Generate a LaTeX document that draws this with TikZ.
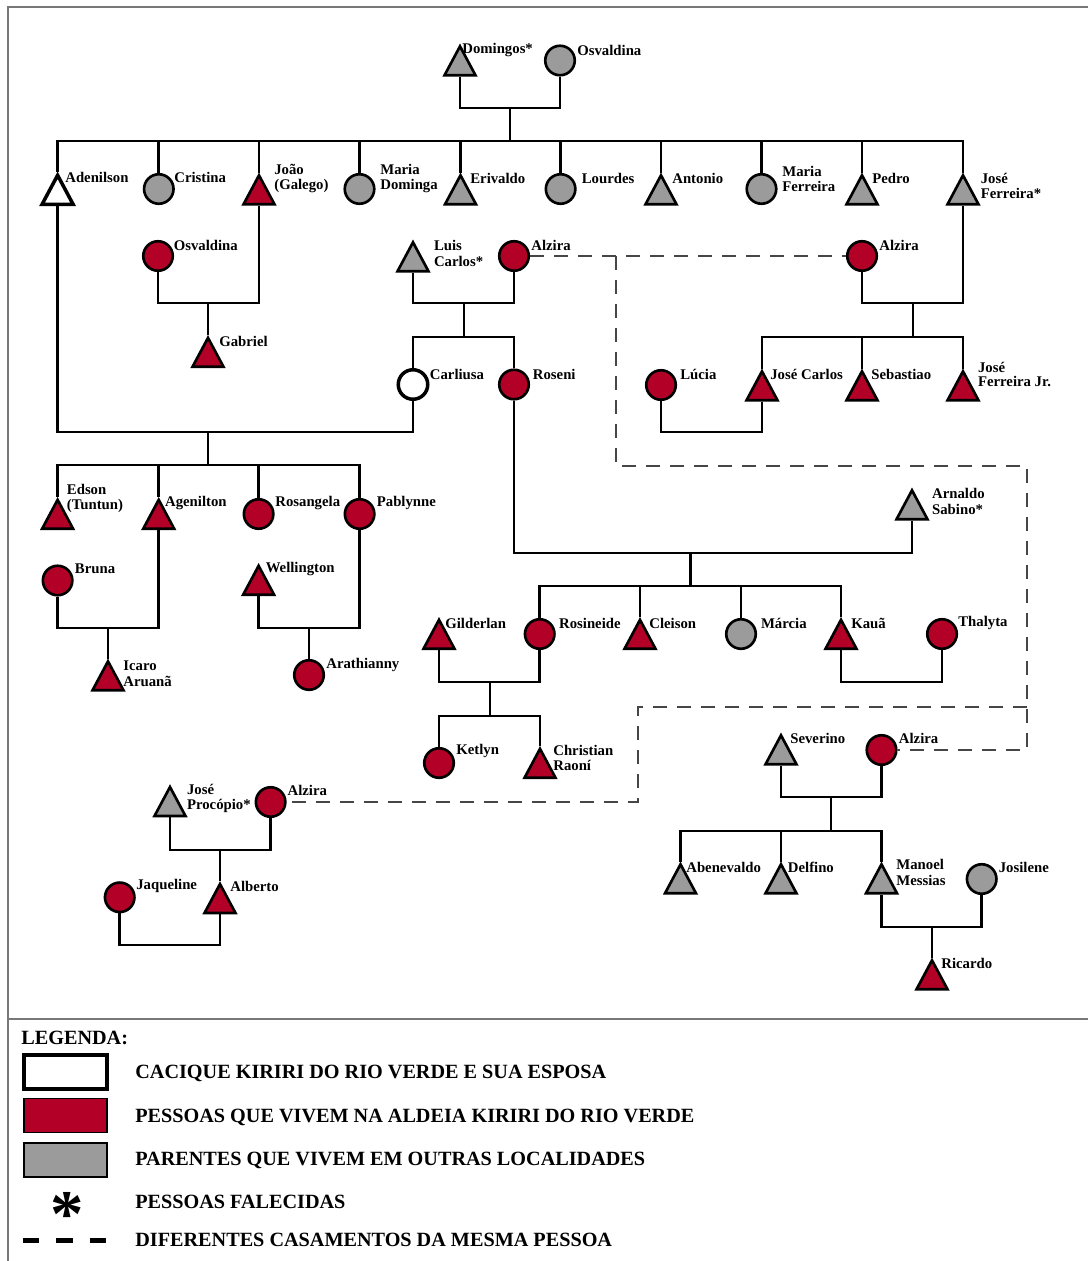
\documentclass[tikz,border=0pt]{standalone}
\usepackage{fontspec}
\setmainfont{Liberation Serif}
\usetikzlibrary{shapes.geometric}
\definecolor{vermelho}{RGB}{178,0,38}
\definecolor{cinza}{RGB}{155,155,155}
\definecolor{cinzaesc}{RGB}{70,70,70}
\definecolor{cinzamold}{RGB}{120,120,120}

\begin{document}
\begin{tikzpicture}[x=0.02cm,y=-0.02cm,
    liga/.style={line width=1.6pt},
    casam/.style={line width=1pt,cinzaesc,dash pattern=on 0.28cm off 0.2cm},
    homem/.style={draw,line width=1.5pt,isosceles triangle,isosceles triangle apex angle=60,
      shape border rotate=90,isosceles triangle stretches,minimum width=0.62cm,minimum height=0.58cm,
      inner sep=0pt,yshift=-0.1cm},
    mulher/.style={draw,line width=1.5pt,circle,minimum size=0.59cm,inner sep=0pt},
    aldeia/.style={fill=vermelho},
    fora/.style={fill=cinza},
    cacique/.style={fill=white,line width=2pt},
    nome/.style={anchor=west,inner sep=0pt,align=left,font=\fontsize{8.4}{9}\selectfont\bfseries},
    legtexto/.style={anchor=west,inner sep=0pt,font=\fontsize{11.5}{12}\selectfont\bfseries},
    caixa/.style={draw,minimum width=1.66cm,minimum height=0.68cm,inner sep=0pt}]
    \useasboundingbox (0,0) rectangle (1088,1261);

    % moldura
    \draw[cinzamold,line width=1pt] (8,1261) -- (8,7) -- (1088,7);
    \draw[cinzamold,line width=1pt] (8,1019) -- (1088,1019);

    % Domingos e Osvaldina
    \node[homem,fora] (domingos) at (460,61) {};
    \node[nome] (domingosN) at (462,50) {Domingos*};
    \node[mulher,fora] (osvaldina) at (560,60.5) {};
    \node[nome] (osvaldinaN) at (577,50) {Osvaldina};

    % filhos de Domingos
    \node[homem,cacique] (adenilson) at (57.6,190) {};
    \node[nome] (adenilsonN) at (65,177) {Adenilson};
    \node[mulher,fora] (cristina) at (158.8,189) {};
    \node[nome] (cristinaN) at (174,177) {Cristina};
    \node[homem,aldeia] (joao) at (259,190) {};
    \node[nome] (joaoN) at (274,178.5) {João\\(Galego)};
    \node[mulher,fora] (mariaD) at (359.5,189) {};
    \node[nome] (mariaDN) at (380,178.5) {Maria\\Dominga};
    \node[homem,fora] (erivaldo) at (460.5,190) {};
    \node[nome] (erivaldoN) at (470,178) {Erivaldo};
    \node[mulher,fora] (lourdes) at (560.6,189) {};
    \node[nome] (lourdesN) at (581.5,178) {Lourdes};
    \node[homem,fora] (antonio) at (661,190) {};
    \node[nome] (antonioN) at (672,178) {Antonio};
    \node[mulher,fora] (mariaF) at (761.5,189) {};
    \node[nome] (mariaFN) at (782,179) {Maria\\Ferreira};
    \node[homem,fora] (pedro) at (862,190) {};
    \node[nome] (pedroN) at (872,178) {Pedro};
    \node[homem,fora] (joseF) at (963,190) {};
    \node[nome] (joseFN) at (980.5,186) {José\\Ferreira*};

    \coordinate (casal0) at (510,108);
    \coordinate (irmaos0) at (510,141);
    \draw[liga] (domingos.south) |- (casal0) -| (osvaldina.south);
    \draw[liga] (casal0) -- (irmaos0);
    \foreach \f in {adenilson,cristina,joao,mariaD,erivaldo,lourdes,antonio,mariaF,pedro,joseF} {
        \draw[liga] (irmaos0) -| (\f.north);
    }

    % João e Osvaldina
    \node[mulher,aldeia] (osvaldinaB) at (158,256) {};
    \node[nome] (osvaldinaBN) at (173.5,245) {Osvaldina};
    \node[homem,aldeia] (gabriel) at (208,352.5) {};
    \node[nome] (gabrielN) at (219,341) {Gabriel};
    \coordinate (casal1) at (208,303);
    \draw[liga] (osvaldinaB.south) |- (casal1) -| (joao.south);
    \draw[liga] (casal1) -- (gabriel.north);

    % Luis Carlos e Alzira
    \node[homem,fora] (luis) at (413,257) {};
    \node[nome] (luisN) at (433.7,253.5) {Luis\\Carlos*};
    \node[mulher,aldeia] (alziraA) at (514,256) {};
    \node[nome] (alziraAN) at (531,245) {Alzira};
    \node[mulher,cacique] (carliusa) at (413,384.5) {};
    \node[nome] (carliusaN) at (429.6,374) {Carliusa};
    \node[mulher,aldeia] (roseni) at (514,384.5) {};
    \node[nome] (roseniN) at (532.6,374) {Roseni};
    \coordinate (casal2) at (464,303);
    \coordinate (irmaos2) at (464,337);
    \draw[liga] (luis.south) |- (casal2) -| (alziraA.south);
    \draw[liga] (casal2) -- (irmaos2);
    \foreach \f in {carliusa,roseni} {
        \draw[liga] (irmaos2) -| (\f.north);
    }

    % José Ferreira e Alzira
    \node[mulher,aldeia] (alziraB) at (862,256) {};
    \node[nome] (alziraBN) at (879,245) {Alzira};
    \node[mulher,aldeia] (lucia) at (661,385) {};
    \node[nome] (luciaN) at (680,374) {Lúcia};
    \node[homem,aldeia] (joseC) at (762,386) {};
    \node[nome] (joseCN) at (770,374) {José Carlos};
    \node[homem,aldeia] (sebastiao) at (862,386) {};
    \node[nome] (sebastiaoN) at (871,374) {Sebastiao};
    \node[homem,aldeia] (joseJr) at (963,386) {};
    \node[nome,font=\fontsize{8.4}{8}\selectfont\bfseries] (joseJrN) at (977.7,374.5) {José\\Ferreira Jr.};
    \coordinate (casal3) at (913,303);
    \coordinate (irmaos3) at (913,337);
    \coordinate (casal4) at (711,432);
    \draw[liga] (alziraB.south) |- (casal3) -| (joseF.south);
    \draw[liga] (casal3) -- (irmaos3);
    \foreach \f in {joseC,sebastiao,joseJr} {
        \draw[liga] (irmaos3) -| (\f.north);
    }
    \draw[liga] (lucia.south) |- (casal4) -| (joseC.south);

    % Adenilson e Carliusa
    \node[homem,aldeia] (edson) at (57.6,514.5) {};
    \node[nome] (edsonN) at (66.6,498.5) {Edson\\(Tuntun)};
    \node[homem,aldeia] (agenilton) at (158.7,514.5) {};
    \node[nome] (ageniltonN) at (164.8,503) {Agenilton};
    \node[mulher,aldeia] (rosangela) at (258.6,514) {};
    \node[nome] (rosangelaN) at (275,503) {Rosangela};
    \node[mulher,aldeia] (pablynne) at (359.6,514) {};
    \node[nome] (pablynneN) at (376.5,503) {Pablynne};
    \coordinate (casal5) at (208,432);
    \coordinate (irmaos5) at (208,465);
    \draw[liga] (adenilson.south) |- (casal5) -| (carliusa.south);
    \draw[liga] (casal5) -- (irmaos5);
    \foreach \f in {edson,agenilton,rosangela,pablynne} {
        \draw[liga] (irmaos5) -| (\f.north);
    }

    % Bruna e Agenilton
    \node[mulher,aldeia] (bruna) at (57.6,580.5) {};
    \node[nome] (brunaN) at (74.6,569) {Bruna};
    \node[homem,aldeia] (icaro) at (108,676) {};
    \node[nome] (icaroN) at (123,673.5) {Icaro\\Aruanã};
    \coordinate (casal6) at (108,628);
    \draw[liga] (bruna.south) |- (casal6) -| (agenilton.south);
    \draw[liga] (casal6) -- (icaro.north);

    % Wellington e Pablynne
    \node[homem,aldeia] (wellington) at (258.6,580.5) {};
    \node[nome] (wellingtonN) at (265.4,569) {Wellington};
    \node[mulher,aldeia] (arathianny) at (309,675) {};
    \node[nome] (arathiannyN) at (326,665) {Arathianny};
    \coordinate (casal7) at (309,628);
    \draw[liga] (wellington.south) |- (casal7) -| (pablynne.south);
    \draw[liga] (casal7) -- (arathianny.north);

    % Roseni e Arnaldo Sabino
    \node[homem,fora] (arnaldo) at (912,505) {};
    \node[nome] (arnaldoN) at (931.8,501.5) {Arnaldo\\Sabino*};
    \node[homem,aldeia] (gilderlan) at (439,634.5) {};
    \node[nome] (gilderlanN) at (445,623) {Gilderlan};
    \node[mulher,aldeia] (rosineide) at (539.7,634) {};
    \node[nome] (rosineideN) at (558.8,623) {Rosineide};
    \node[homem,aldeia] (cleison) at (640,634.5) {};
    \node[nome] (cleisonN) at (649,623) {Cleison};
    \node[mulher,fora] (marcia) at (741,634) {};
    \node[nome] (marciaN) at (760.7,623) {Márcia};
    \node[homem,aldeia] (kaua) at (841,634.5) {};
    \node[nome] (kauaN) at (851,623) {Kauã};
    \node[mulher,aldeia] (thalyta) at (942,634) {};
    \node[nome] (thalytaN) at (958,623) {Thalyta};
    \coordinate (casal8) at (690.5,553);
    \coordinate (irmaos8) at (690.5,586);
    \coordinate (casal10) at (891.5,682);
    \draw[liga] (roseni.south) |- (casal8) -| (arnaldo.south);
    \draw[liga] (casal8) -- (irmaos8);
    \foreach \f in {rosineide,cleison,marcia,kaua} {
        \draw[liga] (irmaos8) -| (\f.north);
    }
    \draw[liga] (kaua.south) |- (casal10) -| (thalyta.south);

    % Gilderlan e Rosineide
    \node[mulher,aldeia] (ketlyn) at (439,763) {};
    \node[nome] (ketlynN) at (456,751) {Ketlyn};
    \node[homem,aldeia] (christian) at (540,763.5) {};
    \node[nome] (christianN) at (553,758) {Christian\\Raoní};
    \coordinate (casal9) at (490,682);
    \coordinate (irmaos9) at (490,716);
    \draw[liga] (gilderlan.south) |- (casal9) -| (rosineide.south);
    \draw[liga] (casal9) -- (irmaos9);
    \foreach \f in {ketlyn,christian} {
        \draw[liga] (irmaos9) -| (\f.north);
    }

    % Severino e Alzira
    \node[homem,fora] (severino) at (781,750) {};
    \node[nome] (severinoN) at (790,738) {Severino};
    \node[mulher,aldeia] (alziraC) at (881.5,750) {};
    \node[nome] (alziraCN) at (898.6,738) {Alzira};
    \node[homem,fora] (abenevaldo) at (680.5,879) {};
    \node[nome] (abenevaldoN) at (686,867) {Abenevaldo};
    \node[homem,fora] (delfino) at (781,879) {};
    \node[nome] (delfinoN) at (787.6,867) {Delfino};
    \node[homem,fora] (manoel) at (881.5,879) {};
    \node[nome] (manoelN) at (896,872.5) {Manoel\\Messias};
    \node[mulher,fora] (josilene) at (981.7,879) {};
    \node[nome] (josileneN) at (998.5,867) {Josilene};
    \node[homem,aldeia] (ricardo) at (932,975) {};
    \node[nome] (ricardoN) at (941,963) {Ricardo};
    \coordinate (casal11) at (831,797);
    \coordinate (irmaos11) at (831,831);
    \coordinate (casal12) at (932,927);
    \draw[liga] (severino.south) |- (casal11) -| (alziraC.south);
    \draw[liga] (casal11) -- (irmaos11);
    \foreach \f in {abenevaldo,delfino,manoel} {
        \draw[liga] (irmaos11) -| (\f.north);
    }
    \draw[liga] (manoel.south) |- (casal12) -| (josilene.south);
    \draw[liga] (casal12) -- (ricardo.north);

    % José Procópio e Alzira
    \node[homem,fora] (procopio) at (170,801.7) {};
    \node[nome] (procopioN) at (186.7,798.5) {José\\Procópio*};
    \node[mulher,aldeia] (alziraD) at (270.6,802) {};
    \node[nome] (alziraDN) at (287.3,790) {Alzira};
    \node[homem,aldeia] (alberto) at (220,898.7) {};
    \node[nome] (albertoN) at (230,886) {Alberto};
    \node[mulher,aldeia] (jaqueline) at (119.7,897.3) {};
    \node[nome] (jaquelineN) at (136,886) {Jaqueline};
    \coordinate (casal13) at (220,850);
    \coordinate (casal14) at (170,945);
    \draw[liga] (procopio.south) |- (casal13) -| (alziraD.south);
    \draw[liga] (casal13) -- (alberto.north);
    \draw[liga] (jaqueline.south) |- (casal14) -| (alberto.south);

    % casamentos da mesma Alzira
    \coordinate (d1) at (616,256);
    \coordinate (d2) at (1027,466);
    \coordinate (d3) at (1027,707);
    \coordinate (d4) at (638,707);
    \draw[casam] (alziraA.east) -- (alziraB.west);
    \draw[casam] (d1) |- (d2) |- (alziraC.east);
    \draw[casam] (d3) -- (d4) |- (alziraD.east);

    % legenda
    \node[legtexto] (legenda) at (21,1038) {LEGENDA:};
    \node[caixa,line width=2.2pt] (cx1) at (65.5,1072) {};
    \node[caixa,fill=vermelho,line width=0.8pt] (cx2) at (65.5,1115.5) {};
    \node[caixa,fill=cinza,line width=0.8pt] (cx3) at (65.5,1160) {};
    \node[anchor=base,inner sep=0pt,font=\fontsize{38}{38}\selectfont\bfseries] (ast) at (67,1236) {*};
    \coordinate (tr1) at (23,1240);
    \coordinate (tr2) at (107,1240);
    \draw[line width=0.1cm,dash pattern=on 0.33cm off 0.34cm] (tr1) -- (tr2);
    \node[legtexto] (t1) at (135,1073) {CACIQUE KIRIRI DO RIO VERDE E SUA ESPOSA};
    \node[legtexto] (t2) at (135,1117) {PESSOAS QUE VIVEM NA ALDEIA KIRIRI DO RIO VERDE};
    \node[legtexto] (t3) at (135,1160) {PARENTES QUE VIVEM EM OUTRAS LOCALIDADES};
    \node[legtexto] (t4) at (135,1202) {PESSOAS FALECIDAS};
    \node[legtexto] (t5) at (135,1240) {DIFERENTES CASAMENTOS DA MESMA PESSOA};
\end{tikzpicture}
\end{document}
